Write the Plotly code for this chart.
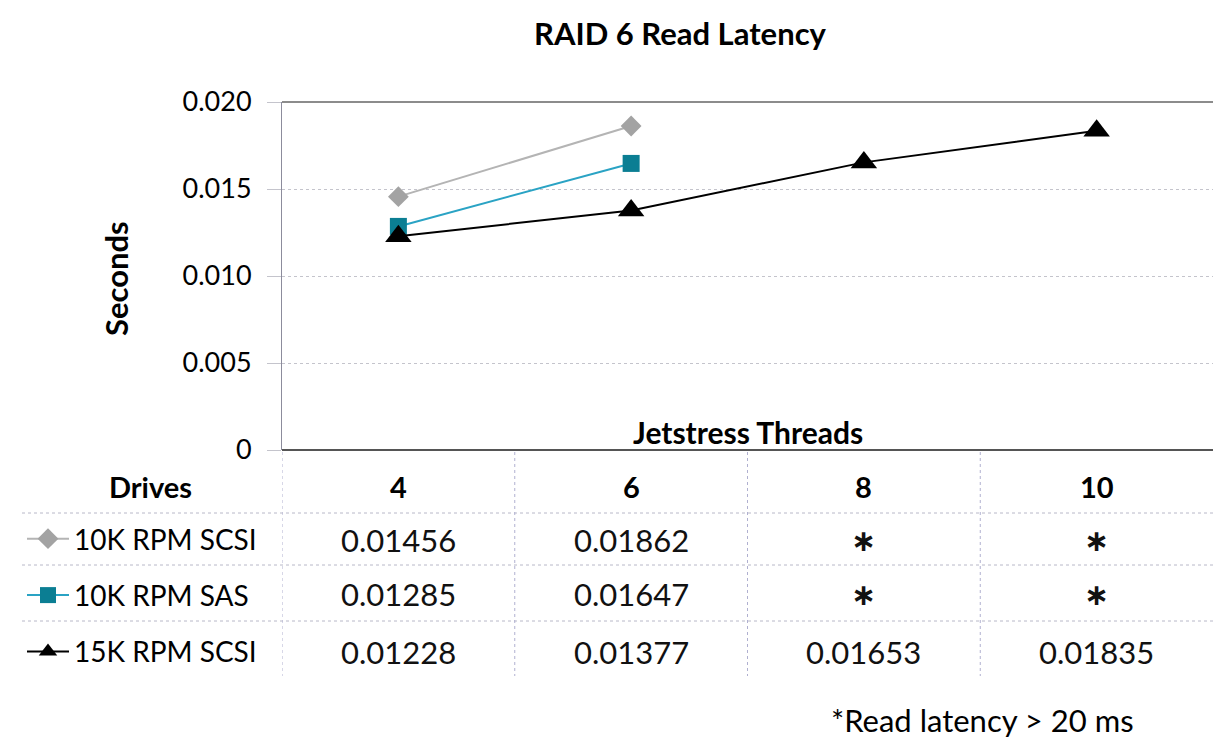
import plotly.graph_objects as go

# Jetstress thread counts (categories) and measured read latency in seconds.
threads = ["4", "6", "8", "10"]
series_names = ["10K RPM SCSI", "10K RPM SAS", "15K RPM SCSI"]
scsi_10k = [0.01456, 0.01862, None, None]
sas_10k = [0.01285, 0.01647, None, None]
scsi_15k = [0.01228, 0.01377, 0.01653, 0.01835]
y_ticks = [0, 0.005, 0.010, 0.015, 0.020]
y_tick_text = ["0", "0.005", "0.010", "0.015", "0.020"]
footnote = "*Read latency > 20 ms"

series_values = [scsi_10k, sas_10k, scsi_15k]
line_colors = ["#b4b4b4", "#2aa3c4", "#000000"]
marker_colors = ["#a3a3a3", "#0b7e93", "#000000"]
marker_symbols = ["diamond", "square", "triangle-up"]
marker_sizes = [16, 17, 23]

FONT = "Lato"
W, H = 1213, 738
L, T, B = 282, 102, 288
PW, PH = W - L, H - T - B


def px_x(x):
    return (x - L) / PW


def px_y(y):
    return (H - B - y) / PH


fig = go.Figure()
for i, (name, vals) in enumerate(zip(series_names, series_values)):
    fig.add_trace(go.Scatter(
        x=threads, y=vals, name=name, mode="lines+markers",
        line=dict(color=line_colors[i], width=2),
        marker=dict(symbol=marker_symbols[i], size=marker_sizes[i],
                    color=marker_colors[i], line=dict(width=0)),
        legendgroup=f"g{i}", connectgaps=False,
    ))

ann = []
shapes = []


def label(text, x, y, size, xref="paper", family=FONT, **kw):
    ann.append(dict(text=text, x=x, y=y, xref=xref, yref="paper",
                    xanchor=kw.pop("xanchor", "center"), yanchor="middle",
                    showarrow=False,
                    font=dict(size=size, family=family, color=kw.pop("color", "#000")),
                    **kw))


# Title and axis titles
label("<b>RAID 6 Read Latency</b>", px_x(680), px_y(33), 31)
label("<b>Seconds</b>", px_x(116), px_y(279), 31, textangle=-90)
label("<b>Jetstress Threads</b>", px_x(748), px_y(432), 30)

# Data table beneath the plot
header_y = px_y(487)
row_ys = [px_y(540), px_y(594), px_y(652)]
label("<b>Drives</b>", px_x(150), header_y, 29)
for i, t in enumerate(threads):
    label(f"<b>{t}</b>", i, header_y, 29, xref="x")
for vals, ry in zip(series_values, row_ys):
    for i, v in enumerate(vals):
        if v is None:
            label("<b>\u2217</b>", i, ry, 30, xref="x", family="DejaVu Sans",
                  color="#111")
        else:
            label(f"{v:.5f}", i, ry, 31, xref="x", color="#111")

grid_style = dict(color="#b8b8c8", width=1, dash="dot")
for yy in [513, 565, 621]:
    shapes.append(dict(type="line", xref="paper", yref="paper",
                       x0=px_x(22), x1=1, y0=px_y(yy), y1=px_y(yy), line=grid_style))
for boundary in [-0.5, 0.5, 1.5, 2.5]:
    shapes.append(dict(type="line", xref="x", yref="paper",
                       x0=boundary, x1=boundary, y0=px_y(452), y1=px_y(676),
                       line=dict(color="#b0b0d0", width=1, dash="dot")))

# Plot frame: top border and bottom axis line
shapes.append(dict(type="line", xref="paper", yref="paper", x0=0, x1=1, y0=1, y1=1,
                   line=dict(color="#8c8c8c", width=2)))
shapes.append(dict(type="line", xref="paper", yref="paper", x0=0, x1=1, y0=0, y1=0,
                   line=dict(color="#555555", width=2)))

# Footnote
label(footnote, px_x(1136), px_y(720), 31, xanchor="right")

fig.update_layout(
    width=W, height=H,
    margin=dict(l=L, r=0, t=T, b=B),
    paper_bgcolor="white", plot_bgcolor="white",
    font=dict(family=FONT, color="#000"),
    annotations=ann, shapes=shapes,
    showlegend=True,
    legend=dict(x=px_x(22), y=px_y(514), xanchor="left", yanchor="top",
                traceorder="grouped", tracegroupgap=17,
                font=dict(size=28, family=FONT, color="#000"),
                itemwidth=42, bgcolor="rgba(0,0,0,0)"),
    xaxis=dict(type="category", range=[-0.5, 3.5], showticklabels=False,
               showgrid=False, zeroline=False, showline=False, ticks=""),
    yaxis=dict(range=[0, 0.02], tickvals=y_ticks, ticktext=y_tick_text,
               showgrid=True, gridcolor="#c4c4cc", griddash="dot", gridwidth=1,
               zeroline=False, showline=True, linecolor="#8c8c9c", linewidth=1,
               ticks="outside", ticklen=14, tickcolor="#c4c4cc",
               ticklabelstandoff=10,
               tickfont=dict(size=27, family=FONT, color="#000")),
)

fig.write_html("out.html")
